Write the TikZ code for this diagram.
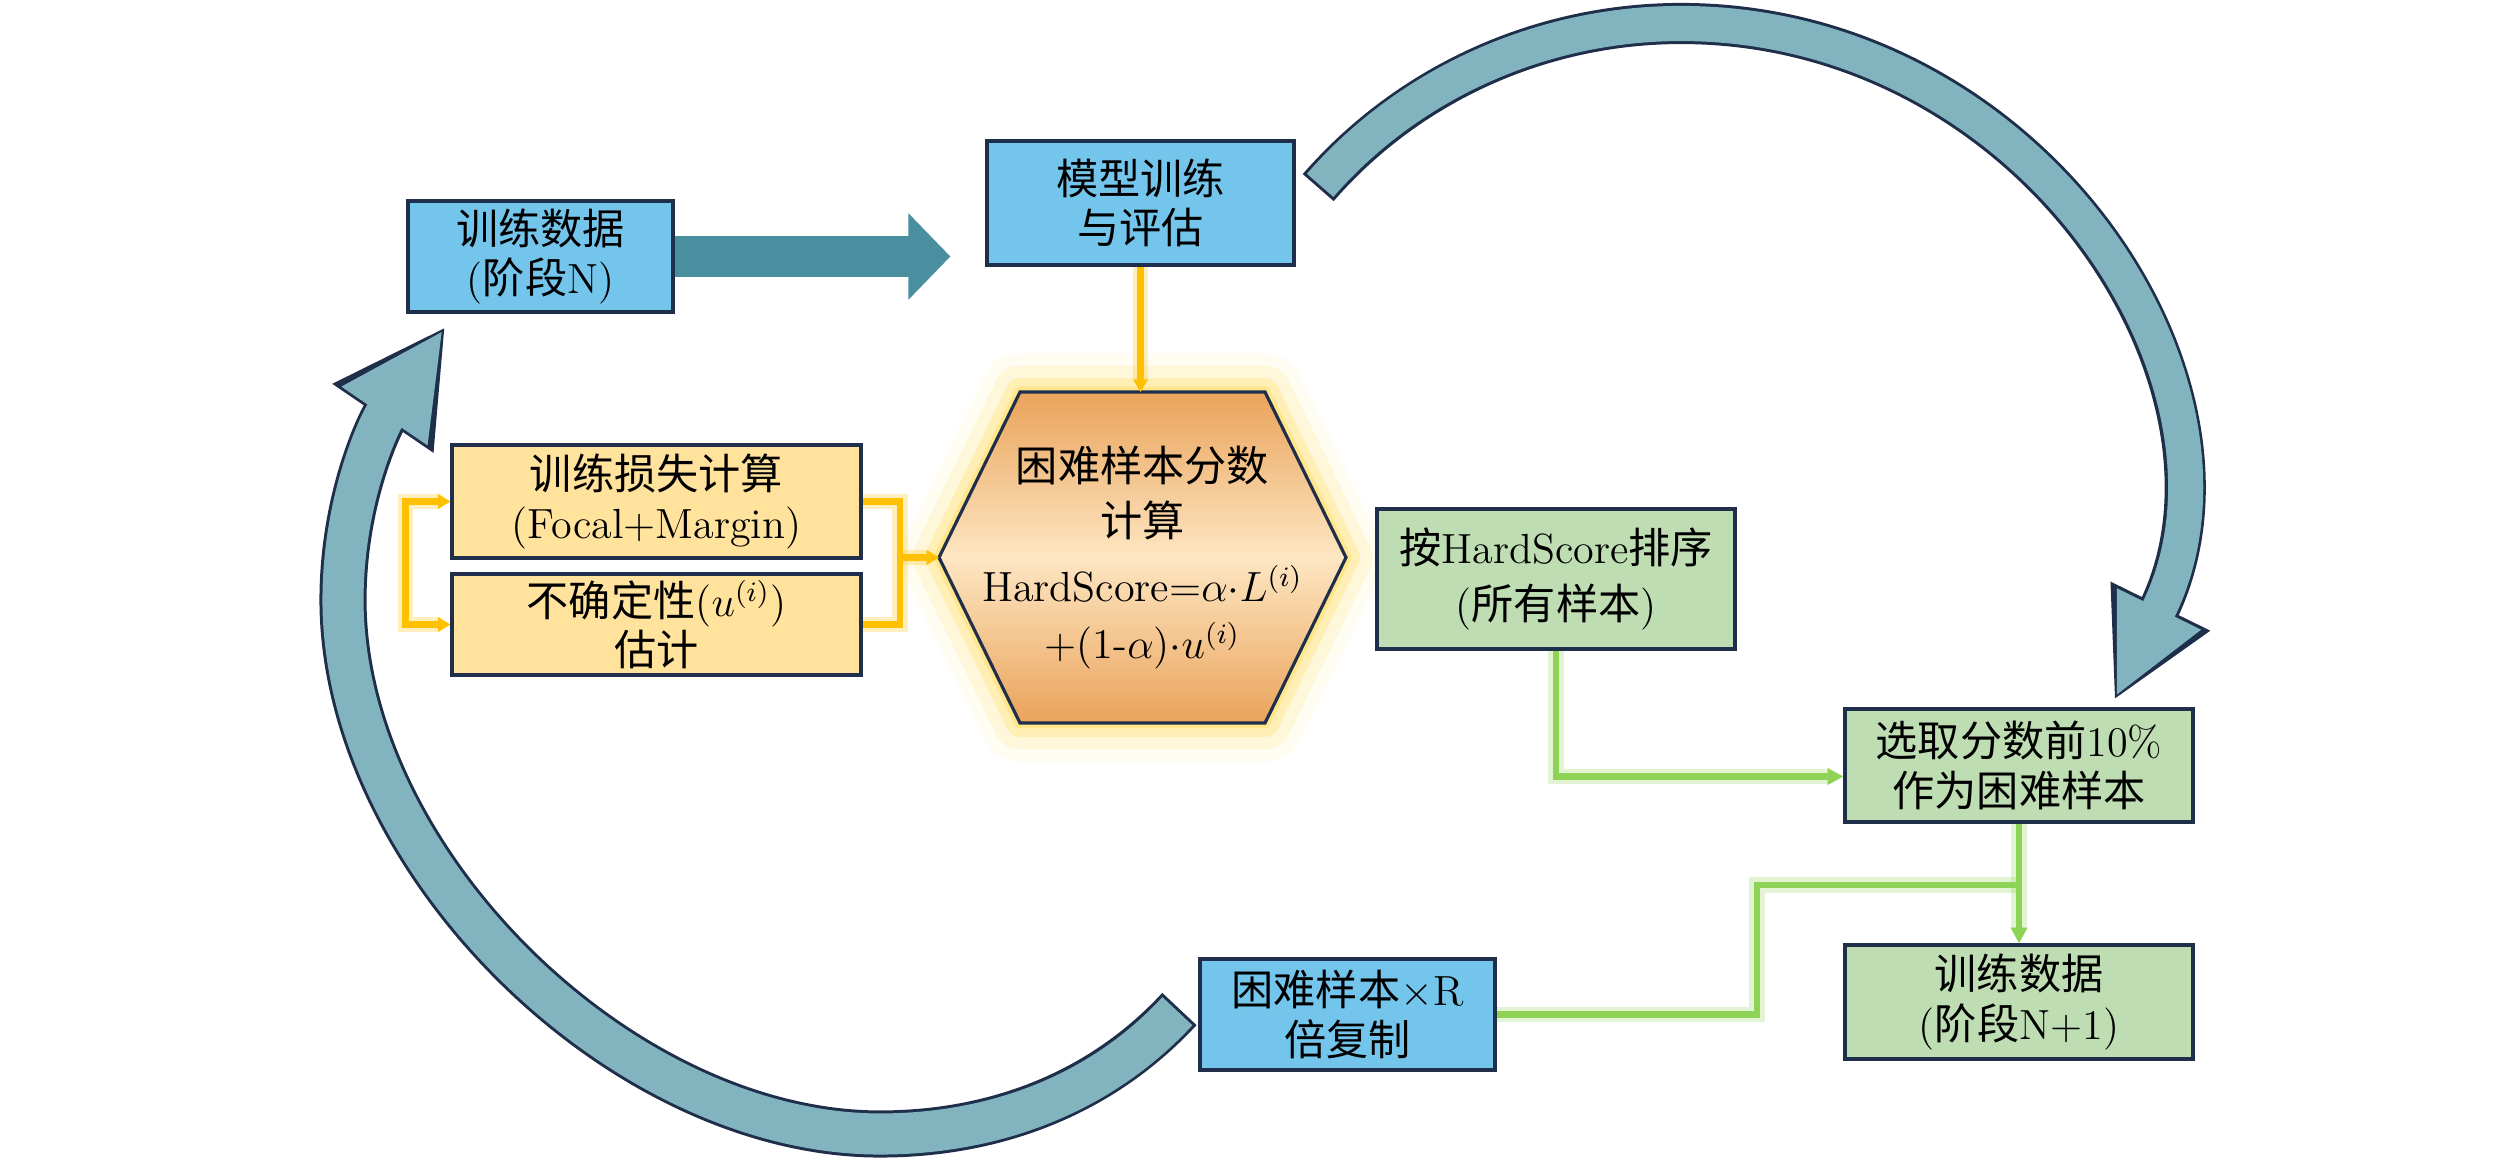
\documentclass[tikz,border=0pt]{standalone}
\usepackage{amsmath}
\usepackage{fontspec}
\newfontfamily\cjk{Noto Sans CJK SC}
\usepackage{tikz}
\usetikzlibrary{arrows.meta,shapes,backgrounds}

\definecolor{navyline}{HTML}{1F2E4A}
\definecolor{boxblue}{HTML}{74C5EC}
\definecolor{boxyellow}{HTML}{FFE29C}
\definecolor{boxgreen}{HTML}{BFDDB2}
\definecolor{hexorange}{HTML}{EAA35B}
\definecolor{hexlight}{HTML}{FDE6C2}
\definecolor{glowyellow}{HTML}{FFD84A}
\definecolor{fatteal}{HTML}{4A8FA0}
\definecolor{arcteal}{HTML}{82B4C0}
\definecolor{linkyellow}{HTML}{FFC000}
\definecolor{linkgreen}{HTML}{8ED256}

\newcommand{\zh}[1]{{\cjk #1}}

\begin{document}
\begin{tikzpicture}[
    every node/.style={font=\fontsize{12}{14}\selectfont},
    box/.style={rectangle, draw=navyline, line width=0.9pt, align=center, inner sep=1pt},
    hexshape/.style={draw=navyline, line width=0.9pt, line join=miter,
      top color=hexorange, bottom color=hexorange, middle color=hexlight},
    hexglow/.style={
      preaction={draw=glowyellow, line width=22pt, opacity=0.08, line join=round},
      preaction={draw=glowyellow, line width=15pt, opacity=0.14, line join=round},
      preaction={draw=glowyellow, line width=8pt, opacity=0.25, line join=round},
      preaction={draw=glowyellow, line width=3pt, opacity=0.4, line join=round}},
    yline/.style={draw=linkyellow, line width=1.8pt,
      preaction={draw=linkyellow, line width=4.5pt, opacity=0.25}},
    gline/.style={draw=linkgreen, line width=1.8pt,
      preaction={draw=linkgreen, line width=4.5pt, opacity=0.25}},
    fatarrow/.style={draw=fatteal, line width=11.4pt,
      -{Triangle[length=12pt,width=24pt]}},
    % curved return arrows: navy outline, then teal body and teal head
    arcleft/.style={draw=navyline, line width=13.4pt,
      -{Triangle[length=31.6pt,width=32.4pt]},
      postaction={draw=arcteal, line width=11.7pt, -, shorten <=0.85pt, shorten >=30.2pt},
      postaction={draw=arcteal, line width=0.4pt, shorten <=1pt, shorten >=1.9pt,
        -{Triangle[length=28.9pt,width=29.6pt]}}},
    arctop/.style={draw=navyline, line width=11.7pt,
      -{Triangle[length=29.9pt,width=29.3pt]},
      postaction={draw=arcteal, line width=10pt, -, shorten <=0.85pt, shorten >=28.5pt},
      postaction={draw=arcteal, line width=0.4pt, shorten <=1pt, shorten >=1.9pt,
        -{Triangle[length=27.1pt,width=26.6pt]}}}
  ]
  \useasboundingbox (0,0) rectangle (25.2,-11.61);

  \begin{scope}[every node/.style={box, fill=boxblue, font=\fontsize{12}{14}\selectfont}]
    \node[minimum width=2.65cm, minimum height=1.11cm] (dataN) at (5.405,-2.565)
      {\zh{训练数据}\\(\zh{阶段}N)};
    \node[minimum width=3.07cm, minimum height=1.24cm] (model) at (11.405,-2.03)
      {\zh{模型训练}\\\zh{与评估}};
    \node[minimum width=2.95cm, minimum height=1.11cm] (hardR) at (13.475,-10.145)
      {\zh{困难样本}$\times$R\\\zh{倍复制}};
  \end{scope}

  \begin{scope}[every node/.style={box, fill=boxyellow, font=\fontsize{12}{14}\selectfont}]
    \node[minimum width=4.09cm, minimum height=1.13cm] (loss) at (6.565,-5.015)
      {\zh{训练损失计算}\\(Focal+Margin)};
    \node[minimum width=4.09cm, minimum height=1.01cm] (unc) at (6.565,-6.245)
      {\zh{不确定性}($u^{(i)}$)\\\zh{估计}};
  \end{scope}

  \begin{scope}[every node/.style={box, fill=boxgreen, font=\fontsize{12}{14}\selectfont}]
    \node[minimum width=3.58cm, minimum height=1.40cm] (sort) at (15.56,-5.79)
      {\zh{按}HardScore\zh{排序}\\[2pt](\zh{所有样本})};
    \node[minimum width=3.48cm, minimum height=1.13cm] (select) at (20.19,-7.655)
      {\zh{选取分数前}10\%\\\zh{作为困难样本}};
    \node[minimum width=3.48cm, minimum height=1.14cm] (dataN1) at (20.19,-10.02)
      {\zh{训练数据}\\(\zh{阶段}N+1)};
  \end{scope}

  \node[align=center, inner sep=0pt, outer sep=0pt, minimum width=4.07cm, minimum height=3.31cm]
    (hex) at (11.425,-5.575)
    {\zh{困难样本分数}\\[1.6pt]\zh{计算}\\[4.5pt]HardScore=$\alpha{\cdot}L^{(i)}$\\[2.2pt]+(1-$\alpha$)${\cdot}u^{(i)}$};
  \begin{pgfonlayer}{background}
    \path[hexshape, hexglow] (hex.west) -- ([xshift=0.81cm]hex.north west)
      -- ([xshift=-0.81cm]hex.north east) -- (hex.east)
      -- ([xshift=-0.81cm]hex.south east) -- ([xshift=0.81cm]hex.south west) -- cycle;
  \end{pgfonlayer}

  \coordinate (lmerge) at (9.00,-5.575);
  \coordinate (gsplit) at (17.57,-8.85);
  \coordinate (selTip) at ([xshift=0.95cm,yshift=0.07cm]select.north);

  % yellow links
  \begin{scope}[>={Triangle[length=3.5pt,width=4pt]}]
    \draw[yline,->] (model.south) -- (model.south |- hex.north);
    \draw[yline,<->] (loss.west) -- ++(-0.45,0) |- (unc.west);
    \draw[yline] (loss.east) -| (lmerge) |- (unc.east);
    \draw[yline,->] (lmerge) -- (hex.west);
  \end{scope}

  % green links
  \begin{scope}[>={Triangle[length=4.5pt,width=4.5pt]}]
    \draw[gline,->] (sort.south) |- ([yshift=-0.11cm]select.west);
    \draw[gline,->] (select.south) -- (dataN1.north);
    \draw[gline] (hardR.east) -| (gsplit) -- (select.south |- gsplit);
  \end{scope}

  % big arrows
  \draw[fatarrow] (dataN.east) -- ([xshift=-0.35cm]dataN.east -| model.west);
  \draw[arctop] ([xshift=0.226cm,yshift=0.154cm]model.east)
    .. controls (14.09,-0.832) and (15.416,-0.235) .. (16.81,-0.235)
    .. controls (20.332,-0.235) and (22.686,-3.862) .. (selTip);
  \draw[arcleft] ([xshift=-0.19cm,yshift=0.055cm]hardR.west)
    .. controls (10.98,-10.97) and (9.90,-11.34) .. (8.80,-11.34)
    .. controls (6.20,-11.34) and (3.43,-8.60) .. (3.43,-6.00)
    .. controls (3.43,-5.00) and (3.79,-4.24) .. ([xshift=0.39cm,yshift=-0.13cm]dataN.south west);
\end{tikzpicture}
\end{document}
